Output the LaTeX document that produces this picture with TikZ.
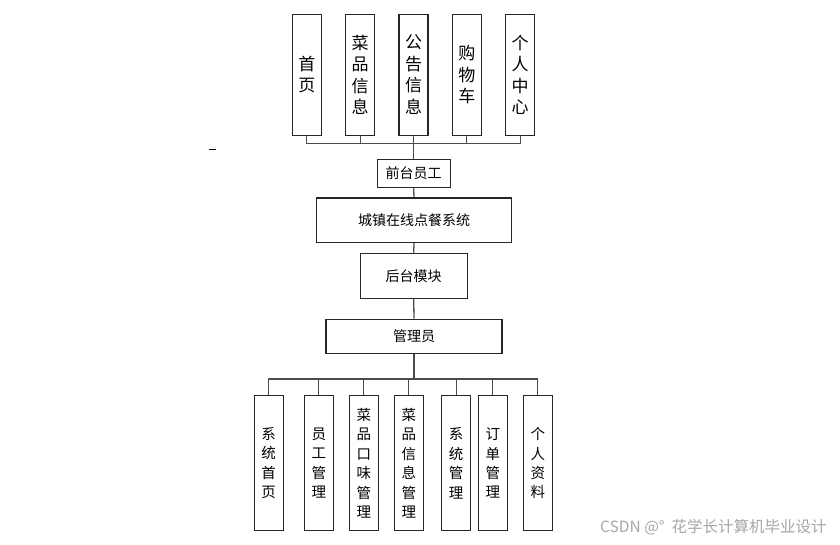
\documentclass[tikz,border=0pt]{standalone}
\usepackage{fontspec}
\setmainfont{Noto Sans CJK SC}
\begin{document}
\begin{tikzpicture}[x=1pt,y=-1pt,
  box/.style={draw=black!85,line width=1.1pt,fill=white,inner sep=0pt,align=center},
  topbox/.style={box,minimum width=29pt,minimum height=120.7pt,font=\fontsize{17}{21.5}\selectfont},
  botbox/.style={box,minimum width=29pt,minimum height=135pt,font=\fontsize{14.5}{19.4}\selectfont},
  midbox/.style={box,font=\fontsize{14}{16}\selectfont},
  conn/.style={draw=black!70,line width=1.3pt}]
\useasboundingbox (0,0) rectangle (840,544);
% top boxes
\node[topbox] (t1) at (306.8,74.7) {首\\页};
\node[topbox] (t2) at (360.2,74.7) {菜\\品\\信\\息};
\node[topbox] (t3) at (413.5,74.7) {公\\告\\信\\息};
\node[topbox] (t4) at (466.8,74.7) {购\\物\\车};
\node[topbox] (t5) at (520.2,74.7) {个\\人\\中\\心};
% middle
\node[midbox,minimum width=72.7pt,minimum height=28.4pt] (qt) at (413.7,173.5) {前台员工};
\node[midbox,minimum width=194.6pt,minimum height=44.7pt] (sys) at (414,220.3) {城镇在线点餐系统};
\node[midbox,minimum width=107.3pt,minimum height=45pt] (ht) at (413.7,275.8) {后台模块};
\node[midbox,minimum width=176pt,minimum height=34.3pt] (gly) at (414,336.2) {管理员};
% bottom
\node[botbox] (b1) at (268.7,463.2) {系\\统\\首\\页};
\node[botbox] (b2) at (318.8,463.2) {员\\工\\管\\理};
\node[botbox] (b3) at (363.8,463.2) {菜\\品\\口\\味\\管\\理};
\node[botbox] (b4) at (408.8,463.2) {菜\\品\\信\\息\\管\\理};
\node[botbox] (b5) at (456.2,463.2) {系\\统\\管\\理};
\node[botbox] (b6) at (492.8,463.2) {订\\单\\管\\理};
\node[botbox] (b7) at (537.8,463.2) {个\\人\\资\\料};
\coordinate (tbus) at (413.7,143.3);
\coordinate (bbus) at (414,379);
% connectors
\foreach \i in {1,...,5}{\draw[conn] (t\i.south) |- (qt.north |- tbus) -- (qt.north);}
\draw[conn] (qt.south) -- (sys.north);
\draw[conn] (sys.south) -- (ht.north);
\draw[conn] (ht.south) -- (gly.north);
\foreach \i in {1,...,7}{\draw[conn] (gly.south) -- (gly.south |- bbus) -| (b\i.north);}
% small dash
\coordinate (d1) at (209,149.5);
\coordinate (d2) at (216,149.5);
\draw[black,line width=1pt] (d1) -- (d2);
% watermark
\node[anchor=west,text=black!35,font=\fontsize{15.5}{17}\selectfont,inner sep=0pt] (wm) at (600,527) {CSDN @°\ \ 花学长计算机毕业设计};
\end{tikzpicture}
\end{document}
